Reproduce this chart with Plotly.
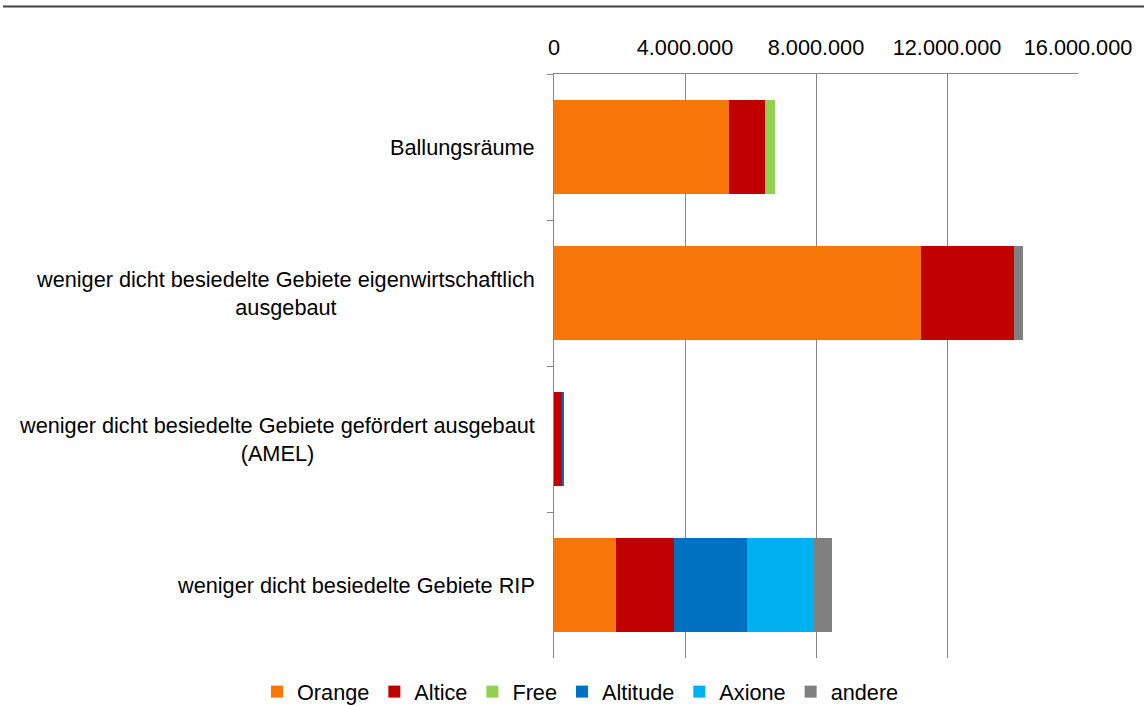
import plotly.graph_objects as go

categories = [
    "Ballungsräume",
    "weniger dicht besiedelte Gebiete eigenwirtschaftlich<br>ausgebaut",
    "weniger dicht besiedelte Gebiete gefördert ausgebaut<br>(AMEL)",
    "weniger dicht besiedelte Gebiete RIP",
]
series_names = ["Orange", "Altice", "Free", "Altitude", "Axione", "andere"]
orange = [5350000, 11210000, 0, 1890000]
altice = [1090000, 2840000, 250000, 1780000]
free = [310000, 0, 0, 0]
altitude = [0, 0, 40000, 2230000]
axione = [0, 0, 0, 2030000]
andere = [0, 280000, 0, 550000]
tick_values = [0, 4000000, 8000000, 12000000, 16000000]

values = [orange, altice, free, altitude, axione, andere]
colors = ["#F7760A", "#C00000", "#92D050", "#0070C0", "#00B0F0", "#808080"]

FONT = "Liberation Sans, Arial, sans-serif"
FS = 21.7

fig = go.Figure()
for name, vals, col in zip(series_names, values, colors):
    fig.add_trace(go.Bar(
        y=categories, x=vals, name=name, orientation="h",
        marker=dict(color=col, line=dict(width=0)),
    ))

W, H = 1144, 706
L, R, T, B = 554, 66, 74, 48
pw, ph = W - L - R, H - T - B

fig.update_layout(
    width=W, height=H,
    barmode="stack", bargap=0.355,
    margin=dict(l=L, r=R, t=T, b=B, pad=0, autoexpand=False),
    paper_bgcolor="white", plot_bgcolor="white",
    separators=",.",
    font=dict(family=FONT, size=FS, color="#000000"),
    showlegend=True,
    legend=dict(
        orientation="h", xref="paper", yref="paper",
        x=(257 - L) / pw, xanchor="left",
        y=(H - B - 692) / ph, yanchor="middle",
        font=dict(family=FONT, size=FS, color="#000000"),
        itemwidth=30, traceorder="normal",
        bgcolor="rgba(0,0,0,0)",
    ),
    xaxis=dict(
        side="top", range=[0, 16000000], tickvals=tick_values,
        tickformat=",d", showgrid=True, gridcolor="#868686", gridwidth=1,
        showline=True, linecolor="#868686", linewidth=1,
        ticks="", zeroline=False, ticklabelstandoff=9,
        tickfont=dict(family=FONT, size=FS, color="#000000"),
    ),
    yaxis=dict(
        type="category", autorange="reversed", tickson="boundaries",
        ticks="outside", ticklen=6, tickcolor="#868686",
        showline=True, linecolor="#868686", linewidth=1,
        showticklabels=False, showgrid=False, zeroline=False,
    ),
    shapes=[dict(
        type="line", xref="paper", yref="paper",
        x0=(3 - L) / pw, x1=(W - L) / pw,
        y0=(H - B - 6.5) / ph, y1=(H - B - 6.5) / ph,
        line=dict(color="#404040", width=2),
    )],
)

for c in categories:
    fig.add_annotation(
        x=0, xref="paper", y=c, yref="y", text=c, showarrow=False,
        xanchor="right", yanchor="middle", align="center", xshift=-17,
        font=dict(family=FONT, size=FS, color="#000000"),
    )

fig.write_html(
    "out.html",
    config={"displayModeBar": False},
    post_script="document.body.style.margin='0';document.body.style.overflow='hidden';",
)
